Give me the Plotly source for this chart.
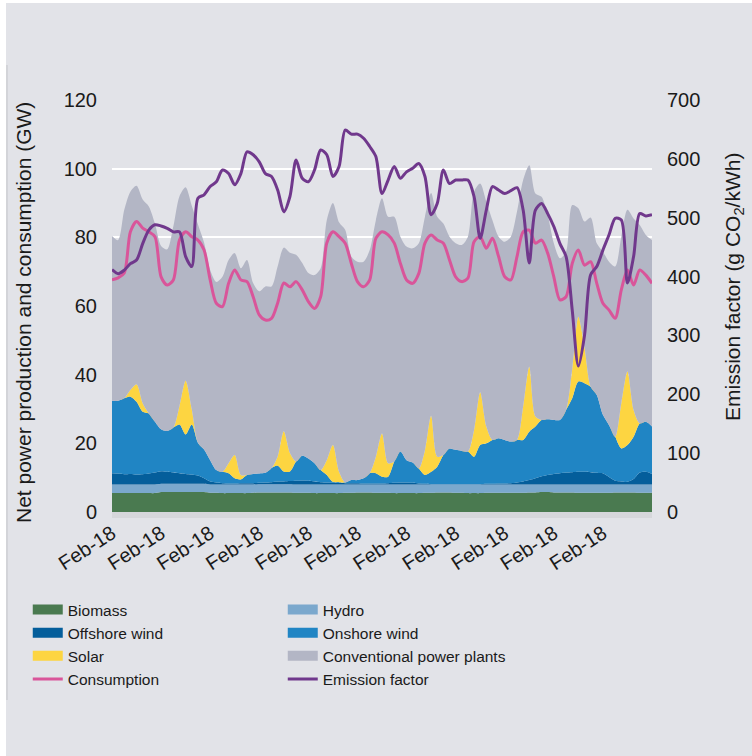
import pandas as pd
import plotly.graph_objects as go

# 3-hourly samples, 1 Feb 2018 00:00 to 12 Feb 2018 00:00
timestamps = pd.date_range("2018-02-01", periods=89, freq="3h")
day_ticks = pd.date_range("2018-02-01", periods=11, freq="D")

# Net power production by source (GW)
biomass = [5.5, 5.5, 5.5, 5.5, 5.5, 5.5, 5.5, 5.5,
           5.8, 5.8, 5.8, 5.8, 5.8, 5.8, 5.8, 5.8,
           5.6, 5.6, 5.5, 5.5, 5.5, 5.5, 5.5, 5.6,
           5.7, 5.7, 5.7, 5.7, 5.7, 5.7, 5.6, 5.6,
           5.6, 5.5, 5.5, 5.5, 5.5, 5.5, 5.6, 5.6,
           5.7, 5.7, 5.7, 5.6, 5.6, 5.6, 5.5, 5.5,
           5.5, 5.5, 5.5, 5.6, 5.6, 5.7, 5.7, 5.7,
           5.6, 5.6, 5.5, 5.5, 5.5, 5.6, 5.6, 5.6,
           5.6, 5.6, 5.6, 5.6, 5.7, 5.7, 5.8, 5.8,
           5.7, 5.7, 5.7, 5.7, 5.6, 5.6, 5.6, 5.6,
           5.6, 5.6, 5.7, 5.7, 5.7, 5.7, 5.6, 5.6,
           5.6]
hydro = [2.5, 2.5, 2.5, 2.5, 2.5, 2.5, 2.5, 2.5,
         2.4, 2.4, 2.4, 2.4, 2.4, 2.4, 2.4, 2.4,
         2.4, 2.4, 2.5, 2.5, 2.5, 2.5, 2.5, 2.4,
         2.4, 2.4, 2.4, 2.4, 2.4, 2.4, 2.4, 2.4,
         2.4, 2.5, 2.5, 2.5, 2.5, 2.5, 2.4, 2.4,
         2.3, 2.3, 2.3, 2.4, 2.4, 2.4, 2.5, 2.5,
         2.5, 2.5, 2.5, 2.4, 2.4, 2.3, 2.3, 2.3,
         2.4, 2.4, 2.5, 2.5, 2.5, 2.4, 2.4, 2.4,
         2.4, 2.4, 2.4, 2.4, 2.3, 2.3, 2.2, 2.2,
         2.3, 2.3, 2.3, 2.3, 2.4, 2.4, 2.4, 2.4,
         2.4, 2.4, 2.3, 2.3, 2.3, 2.3, 2.4, 2.4,
         2.4]
offshore_wind = [3.3, 3.2, 3.0, 3.1, 2.9, 3.0, 3.2, 3.5,
                 3.7, 3.5, 3.3, 3.1, 2.9, 2.7, 2.4, 1.6,
                 0.9, 0.6, 0.4, 0.3, 0.3, 0.4, 0.4, 0.4,
                 0.4, 0.5, 0.6, 0.8, 0.8, 0.9, 1.1, 1.2,
                 1.1, 0.9, 0.7, 0.6, 0.5, 0.5, 0.4, 0.4,
                 0.4, 0.3, 0.3, 0.3, 0.3, 0.4, 0.5, 0.6,
                 0.6, 0.5, 0.3, 0.2, 0.1, 0.1, 0.1, 0.1,
                 0.1, 0.1, 0.1, 0.1, 0.1, 0.2, 0.2, 0.3,
                 0.3, 0.4, 0.6, 0.9, 1.3, 1.8, 2.4, 2.8,
                 3.1, 3.3, 3.5, 3.6, 3.7, 3.7, 3.6, 3.4,
                 3.3, 2.2, 1.1, 0.9, 0.8, 1.6, 3.5, 3.7,
                 3.1]
onshore_wind = [21.1, 21.2, 22.1, 22.5, 21.2, 18.2, 17.5, 14.8,
                12.2, 11.9, 13.1, 14.2, 11.5, 14.6, 9.6, 8.4,
                6.2, 3.6, 3.3, 3.0, 1.5, 1.1, 2.4, 2.7,
                2.7, 2.8, 4.1, 4.6, 2.9, 2.8, 5.6, 7.2,
                6.5, 5.3, 3.5, 2.2, 0.3, 0.2, 0.2, 0.9,
                0.9, 1.5, 3.0, 3.0, 2.0, 1.9, 6.2, 9.0,
                6.5, 5.9, 4.4, 2.6, 3.6, 5.1, 8.5, 10.4,
                10.0, 9.7, 9.5, 8.0, 11.4, 11.8, 12.8, 13.2,
                12.7, 12.1, 12.4, 12.1, 14.1, 15.1, 16.4, 16.2,
                15.7, 15.5, 18.2, 21.5, 26.3, 25.8, 24.9, 22.7,
                17.0, 15.1, 12.8, 9.6, 10.7, 12.3, 14.3, 14.6,
                13.8]
solar = [0, 0, 0, 1.9, 5.1, 2.5, 0, 0,
         0, 0, 0, 5.4, 15.6, 4.4, 0, 0,
         0, 0, 0, 2.9, 6.8, 1.3, 0, 0,
         0, 0, 0, 2.7, 11.7, 5.4, 0, 0,
         0, 0, 0, 4.3, 10.7, 3.0, 0, 0,
         0, 0, 0, 4.8, 12.6, 3.9, 0, 0,
         0, 0, 0, 7.2, 16.3, 2.9, 0, 0,
         0, 0, 0, 7.8, 15.4, 4.9, 0, 0,
         0, 0, 0, 9.7, 18.9, 2.9, 0, 0,
         0, 0, 0, 8.5, 18.9, 10.5, 0, 0,
         0, 0, 0, 13.2, 21.4, 7.8, 0, 0,
         0]
conventional = [48.0, 46.8, 54.9, 57.8, 57.8, 59.3, 60.3, 57.7,
                53.4, 52.9, 58.6, 61.1, 56.4, 59.3, 63.6, 60.3,
                55.4, 54.8, 56.8, 59.2, 58.8, 60.2, 62.6, 55.6,
                53.1, 54.3, 52.9, 55.4, 53.5, 58.3, 60.2, 56.1,
                54.0, 54.8, 58.8, 69.9, 70.5, 72.7, 73.6, 65.1,
                63.6, 63.1, 65.0, 68.9, 68.5, 71.8, 71.3, 62.6,
                62.2, 62.4, 65.6, 68.0, 64.9, 69.9, 67.4, 61.7,
                60.2, 60.0, 62.6, 69.4, 60.8, 65.5, 64.0, 58.7,
                57.7, 59.7, 66.5, 66.0, 58.7, 65.0, 65.0, 59.5,
                51.5, 47.1, 46.1, 47.8, 31.6, 36.6, 49.3, 44.2,
                47.5, 47.6, 49.6, 48.5, 47.1, 55.8, 57.8, 54.4,
                54.3]

# Consumption (GW)
consumption = [67.6, 68.2, 69.6, 81.6, 84.6, 82.7, 81.6, 80.2,
               68.5, 66.1, 67.6, 79.2, 81.6, 80.2, 79.2, 76.3,
               67.6, 60.8, 59.8, 66.6, 70.5, 67.6, 67.1, 62.7,
               57.4, 55.9, 56.4, 60.9, 66.7, 65.6, 67.1, 64.7,
               61.3, 59.3, 62.7, 78.3, 81.6, 80.2, 78.3, 72.4,
               67.1, 65.6, 67.6, 79.7, 81.6, 80.7, 78.3, 72.4,
               67.6, 66.6, 69.5, 78.3, 80.7, 79.2, 78.3, 73.4,
               68.5, 67.1, 68.1, 78.7, 80.2, 76.8, 79.7, 74.4,
               68.5, 67.6, 74.4, 81.6, 82.1, 78.3, 79.2, 75.4,
               68.5, 61.8, 62.7, 72.4, 76.3, 71.9, 72.9, 66.6,
               60.8, 58.8, 56.4, 64.7, 70.5, 66.1, 70.5, 69.0,
               66.6]

# Emission factor (g CO2/kWh)
emission_factor = [412, 405, 411, 422, 428, 456, 479, 488,
                   486, 482, 476, 476, 434, 417, 533, 539,
                   553, 561, 581, 575, 556, 575, 612, 607,
                   595, 575, 570, 547, 510, 536, 598, 567,
                   561, 581, 615, 607, 570, 587, 649, 642,
                   642, 635, 621, 604, 541, 564, 587, 567,
                   578, 584, 592, 570, 505, 524, 581, 558,
                   564, 564, 564, 536, 465, 513, 553, 547,
                   541, 546, 551, 513, 423, 513, 524, 507,
                   485, 456, 434, 343, 248, 300, 403, 417,
                   445, 471, 499, 496, 389, 434, 507, 503,
                   505]

BG = "#e2e3e8"
TEXT = "#1a1a1a"
FONT = "Liberation Sans, Arial, sans-serif"

areas = [
    ("Biomass", biomass, "#4a7a50"),
    ("Hydro", hydro, "#7ba8cd"),
    ("Offshore wind", offshore_wind, "#045e9b"),
    ("Onshore wind", onshore_wind, "#2085c4"),
    ("Solar", solar, "#fdd541"),
    ("Conventional power plants", conventional, "#b3b6c5"),
]

fig = go.Figure()

for name, values, color in areas:
    fig.add_trace(go.Scatter(
        x=timestamps, y=values, name=name, stackgroup="production",
        mode="lines", line=dict(width=0, shape="spline", smoothing=0.8),
        fillcolor=color, showlegend=False, hoverinfo="skip",
    ))

fig.add_trace(go.Scatter(
    x=timestamps, y=consumption, name="Consumption", mode="lines",
    line=dict(color="#d9559a", width=3, shape="spline", smoothing=0.8),
    legendrank=7,
))
fig.add_trace(go.Scatter(
    x=timestamps, y=emission_factor, name="Emission factor", mode="lines",
    yaxis="y2", line=dict(color="#70388c", width=3, shape="spline", smoothing=0.8),
    legendrank=8,
))

# legend swatches for the stacked sources
for rank, (name, _, color) in enumerate(areas, start=1):
    fig.add_trace(go.Scatter(
        x=[None], y=[None], name=name, mode="lines",
        line=dict(color=color, width=10), legendrank=rank,
    ))


def px_x(px):
    return (px - 112) / 540


def px_y(py):
    return (512 - py) / 412


shapes = [
    # white frame strips along the top and left edges
    dict(type="rect", xref="paper", yref="paper", x0=px_x(0), x1=px_x(6),
         y0=px_y(756), y1=px_y(0), fillcolor="white", line_width=0, layer="below"),
    dict(type="rect", xref="paper", yref="paper", x0=px_x(0), x1=px_x(752),
         y0=px_y(3), y1=px_y(0), fillcolor="white", line_width=0, layer="below"),
    dict(type="line", xref="paper", yref="paper", x0=px_x(7), x1=px_x(7),
         y0=px_y(700), y1=px_y(65), line=dict(color="#c4c5c9", width=1)),
    # light band under the date axis
    dict(type="rect", xref="paper", yref="paper", x0=0, x1=1,
         y0=px_y(518), y1=0, fillcolor="#d6d7db", line_width=0),
]

annotations = [
    dict(text="Net power production and consumption (GW)", textangle=-90,
         xref="paper", yref="paper", x=px_x(23), y=px_y(313),
         xanchor="center", yanchor="middle", showarrow=False,
         font=dict(size=21, color=TEXT)),
    dict(text="Emission factor (g CO<sub>2</sub>/kWh)", textangle=-90,
         xref="paper", yref="paper", x=px_x(734), y=px_y(287),
         xanchor="center", yanchor="middle", showarrow=False,
         font=dict(size=21, color=TEXT)),
]

fig.update_layout(
    width=752, height=756,
    margin=dict(l=112, r=100, t=100, b=244),
    paper_bgcolor=BG, plot_bgcolor=BG,
    font=dict(family=FONT, size=20, color=TEXT),
    shapes=shapes,
    annotations=annotations,
    showlegend=True,
    legend=dict(
        orientation="h", x=-0.156, y=-0.1966, xanchor="left", yanchor="top",
        font=dict(family=FONT, size=15.5, color=TEXT),
        entrywidth=210, entrywidthmode="pixels", traceorder="normal",
        bgcolor="rgba(0,0,0,0)", itemwidth=30, tracegroupgap=0,
    ),
    xaxis=dict(
        type="date", range=[timestamps[0], timestamps[-1]],
        tickvals=day_ticks, tickformat="%b-%y", tickangle=-33,
        tickfont=dict(size=20), showgrid=False, zeroline=False,
        showline=False, ticks="", ticklabelstandoff=5,
    ),
    yaxis=dict(
        range=[0, 120], dtick=20, showgrid=True, gridcolor="white", gridwidth=2,
        zeroline=False, showline=False, ticks="", ticklabelstandoff=14,
    ),
    yaxis2=dict(
        range=[0, 700], dtick=100, overlaying="y", side="right",
        showgrid=False, zeroline=False, showline=False, ticks="",
        ticklabelstandoff=14,
    ),
)

fig.write_html("out.html")
